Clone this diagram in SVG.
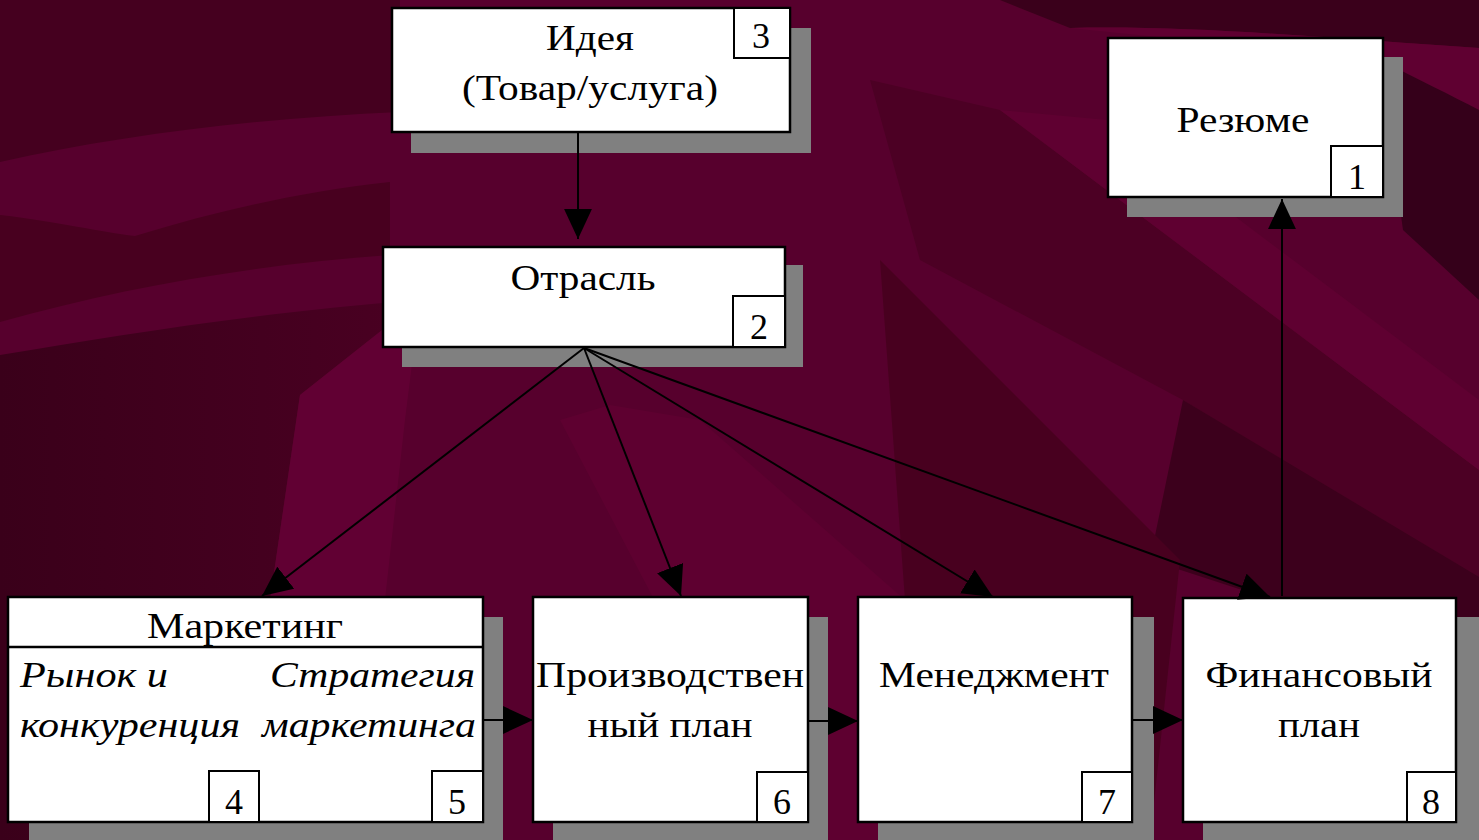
<svg xmlns="http://www.w3.org/2000/svg" width="1479" height="840" viewBox="0 0 1479 840">
<defs>
<style>
.box{fill:#ffffff;stroke:#000000;stroke-width:2.5}
.sh{fill:#808080}
.num{fill:#ffffff;stroke:#000000;stroke-width:2}
.t{font-family:"Liberation Serif","Times New Roman",serif;font-size:36px;fill:#000000}
.c{text-anchor:middle}
.i{font-style:italic}
.ln{stroke:#000000;stroke-width:2;fill:none}
</style>
<marker id="ah" markerUnits="userSpaceOnUse" markerWidth="30" markerHeight="28" viewBox="0 0 28 26" refX="28" refY="13" orient="auto">
<path d="M0,0 L28,13 L0,26 Z" fill="#000000"/>
</marker>
<linearGradient id="lg" x1="0" y1="0" x2="1" y2="0">
<stop offset="0" stop-color="#3a001a"/>
<stop offset="1" stop-color="#4a0022"/>
</linearGradient>
</defs>
<g id="background">
<rect width="1479" height="840" fill="#57002d"/>
<path d="M0,0 H400 V112 C260,118 120,135 0,162 Z" fill="#45001f"/>
<path d="M0,215 C60,222 100,232 135,236 C220,210 300,192 390,182 L390,255 C250,265 120,288 0,322 Z" fill="#48001f"/>
<path d="M0,355 C120,335 260,312 420,300 L300,395 L270,600 L248,840 L0,840 Z" fill="url(#lg)"/>
<path d="M300,395 L420,300 L405,420 L385,600 L370,840 L248,840 L270,600 Z" fill="#610033"/>
<path d="M560,420 L610,405 L700,420 L905,600 L930,840 L780,840 Z" fill="#5e0030"/>
<path d="M1000,0 H1479 V48 C1350,40 1200,25 1070,28 Z" fill="#3a001b"/>
<path d="M1070,28 C1200,25 1350,40 1479,48 V110 C1430,90 1400,70 1380,60 Z" fill="#5f0031"/>
<path d="M1380,60 C1420,80 1450,95 1479,110 V300 L1403,230 Z" fill="#35001a"/>
<path d="M870,80 L1000,110 L1479,470 V580 L1183,400 L920,260 Z" fill="#4c0024"/>
<path d="M1000,110 L1107,120 L1479,400 V470 Z" fill="#5f0031"/>
<path d="M1183,400 L1479,577 V840 L1330,840 L1273,600 L1150,560 Z" fill="#3c001c"/>
<path d="M1330,600 L1479,640 V840 L1420,840 Z" fill="#5f0031"/>
<path d="M880,260 L1180,560 L1150,840 L930,840 L905,600 Z" fill="#48001f"/>
</g>
<g id="node-idea">
<rect class="sh" x="411" y="28" width="400" height="125"/>
<rect class="box" x="392" y="8" width="398" height="124"/>
<rect class="num" x="734" y="8" width="56" height="50"/>
<text class="t c" x="761" y="48">3</text>
<text class="t c" x="590" y="50" textLength="88" lengthAdjust="spacingAndGlyphs">Идея</text>
<text class="t c" x="590" y="100" textLength="256" lengthAdjust="spacingAndGlyphs">(Товар/услуга)</text>
</g>
<g id="node-resume">
<rect class="sh" x="1127" y="57" width="276" height="160"/>
<rect class="box" x="1108" y="38" width="275" height="159"/>
<rect class="num" x="1331" y="146" width="52" height="51"/>
<text class="t c" x="1357" y="189">1</text>
<text class="t c" x="1243" y="132" textLength="133" lengthAdjust="spacingAndGlyphs">Резюме</text>
</g>
<g id="node-industry">
<rect class="sh" x="402" y="265" width="401" height="102"/>
<rect class="box" x="383" y="247" width="402" height="100"/>
<rect class="num" x="733" y="296" width="52" height="51"/>
<text class="t c" x="759" y="339">2</text>
<text class="t c" x="583" y="290" textLength="145" lengthAdjust="spacingAndGlyphs">Отрасль</text>
</g>
<g id="node-marketing">
<rect class="sh" x="29" y="617" width="474" height="230"/>
<rect class="box" x="8" y="597" width="475" height="225"/>
<line x1="8" y1="647" x2="483" y2="647" stroke="#000000" stroke-width="2.5"/>
<rect class="num" x="209" y="771" width="50" height="51"/>
<text class="t c" x="234" y="814">4</text>
<rect class="num" x="432" y="771" width="51" height="51"/>
<text class="t c" x="457" y="814">5</text>
<text class="t c" x="245" y="638" textLength="196" lengthAdjust="spacingAndGlyphs">Маркетинг</text>
<text class="t i" x="20" y="687" textLength="148" lengthAdjust="spacingAndGlyphs">Рынок и</text>
<text class="t i" x="20" y="737" textLength="220" lengthAdjust="spacingAndGlyphs">конкуренция</text>
<text class="t i" x="270" y="687" textLength="205" lengthAdjust="spacingAndGlyphs">Стратегия</text>
<text class="t i" x="262" y="737" textLength="214" lengthAdjust="spacingAndGlyphs">маркетинга</text>
</g>
<g id="node-production">
<rect class="sh" x="553" y="617" width="275" height="230"/>
<rect class="box" x="533" y="597" width="275" height="225"/>
<rect class="num" x="757" y="772" width="51" height="50"/>
<text class="t c" x="782" y="814">6</text>
<text class="t c" x="670" y="687" textLength="268" lengthAdjust="spacingAndGlyphs">Производствен</text>
<text class="t c" x="670" y="737" textLength="165" lengthAdjust="spacingAndGlyphs">ный план</text>
</g>
<g id="node-management">
<rect class="sh" x="878" y="617" width="276" height="230"/>
<rect class="box" x="858" y="597" width="274" height="225"/>
<rect class="num" x="1082" y="772" width="50" height="50"/>
<text class="t c" x="1107" y="814">7</text>
<text class="t c" x="994" y="687" textLength="230" lengthAdjust="spacingAndGlyphs">Менеджмент</text>
</g>
<g id="node-finance">
<rect class="sh" x="1203" y="617" width="280" height="230"/>
<rect class="box" x="1183" y="598" width="273" height="224"/>
<rect class="num" x="1407" y="772" width="49" height="50"/>
<text class="t c" x="1431" y="814">8</text>
<text class="t c" x="1319" y="687" textLength="227" lengthAdjust="spacingAndGlyphs">Финансовый</text>
<text class="t c" x="1319" y="737" textLength="82" lengthAdjust="spacingAndGlyphs">план</text>
</g>
<g id="connectors">
<line class="ln" x1="578" y1="133" x2="578" y2="239" marker-end="url(#ah)"/>
<line class="ln" x1="584" y1="348" x2="262" y2="596" marker-end="url(#ah)"/>
<line class="ln" x1="584" y1="348" x2="681" y2="596" marker-end="url(#ah)"/>
<line class="ln" x1="584" y1="348" x2="993" y2="597" marker-end="url(#ah)"/>
<line class="ln" x1="584" y1="348" x2="1270" y2="597" marker-end="url(#ah)"/>
<line class="ln" x1="1282" y1="596" x2="1282" y2="199" marker-end="url(#ah)"/>
<line class="ln" x1="484" y1="720" x2="533" y2="720" marker-end="url(#ah)"/>
<line class="ln" x1="809" y1="721" x2="858" y2="721" marker-end="url(#ah)"/>
<line class="ln" x1="1133" y1="720" x2="1183" y2="720" marker-end="url(#ah)"/>
</g>
</svg>
